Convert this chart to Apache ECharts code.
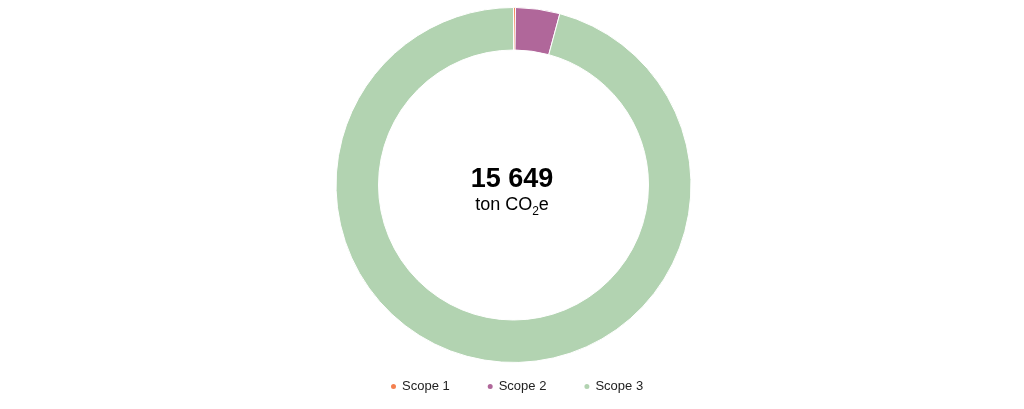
<!DOCTYPE html>
<html>
<head>
<meta charset="utf-8">
<script src="https://cdn.jsdelivr.net/npm/echarts@6/dist/echarts.min.js"></script>
<style>
  html, body { margin: 0; padding: 0; background: #fff; }
  #chart { width: 1024px; height: 409px; }
</style>
</head>
<body>
<div id="chart"></div>
<script>
// 数据
var scopeNames = ['Scope 1', 'Scope 2', 'Scope 3'];
var scopeValues = [28, 630, 14991];
var scopeColors = ['#f4804f', '#b0679a', '#b2d3b1'];
var totalLabel = '15 649';

var myChart = echarts.init(document.getElementById('chart'));

var option = {
    animation: false,
    color: scopeColors,
    legend: {
        bottom: 11,
        left: 384,
        icon: 'circle',
        itemWidth: 7,
        itemHeight: 7,
        itemGap: 36,
        textStyle: { fontFamily: 'Liberation Sans, Arial', fontSize: 13, color: '#222' },
        data: scopeNames
    },
    graphic: [
        {
            type: 'text',
            left: 'center',
            top: 166,
            style: {
                text: totalLabel,
                font: 'bold 27px "Liberation Sans", Arial',
                fill: '#000'
            }
        },
        {
            type: 'text',
            left: 'center',
            top: 196,
            style: {
                text: '{a|ton CO}{s|2}{a|e}',
                rich: {
                    a: { fontFamily: 'Liberation Sans, Arial', fontSize: 18, fill: '#000', verticalAlign: 'top' },
                    s: { fontFamily: 'Liberation Sans, Arial', fontSize: 12, fill: '#000', padding: [10, 0, 0, 0] }
                }
            }
        }
    ],
    series: [{
        type: 'pie',
        center: [513.5, 185],
        radius: [135, 177.5],
        startAngle: 90,
        clockwise: true,
        label: { show: false },
        labelLine: { show: false },
        emphasis: { disabled: true },
        itemStyle: { borderColor: '#fff', borderWidth: 1 },
        data: scopeNames.map(function (n, i) {
            return { name: n, value: scopeValues[i] };
        })
    }]
};
myChart.setOption(option);
</script>
</body>
</html>
